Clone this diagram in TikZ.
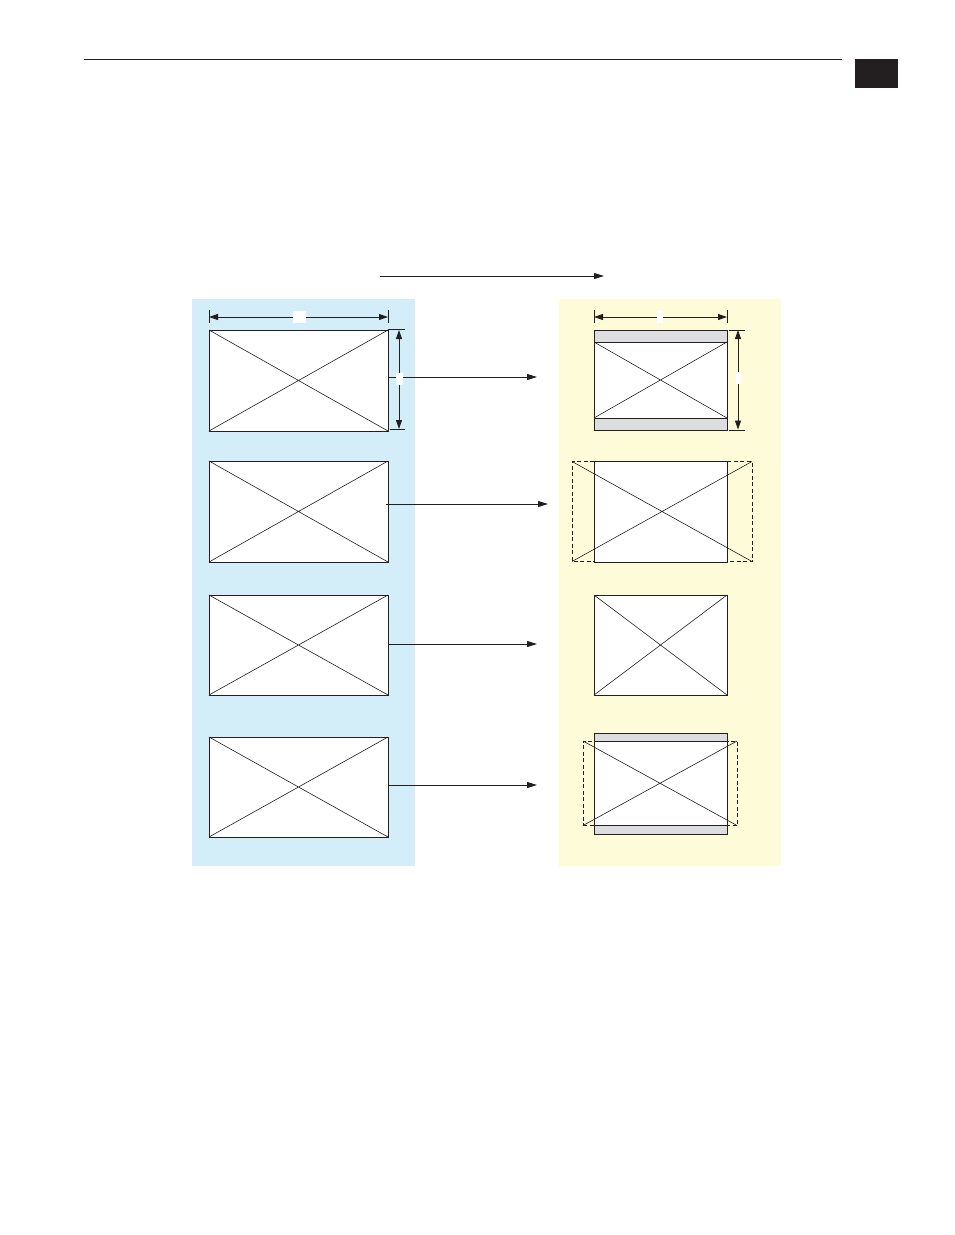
\documentclass[tikz,border=0pt]{standalone}
\usetikzlibrary{arrows.meta}
\definecolor{panelblue}{HTML}{D3EDF9}
\definecolor{panelyellow}{HTML}{FEFBD9}
\definecolor{bargray}{HTML}{DCDDDE}
\definecolor{ink}{HTML}{231F20}
\begin{document}
\begin{tikzpicture}[x=1pt,y=-1pt,
  frame/.style={draw=ink,line width=0.9pt,fill=white,inner sep=0pt,outer sep=0pt},
  ghost/.style={draw=ink,line width=0.8pt,dashed,dash pattern=on 4pt off 2.5pt,inner sep=0pt,outer sep=0pt},
  ghostline/.style={draw=ink,line width=0.8pt,dash pattern=on 4pt off 2.5pt},
  anchorbox/.style={inner sep=0pt,outer sep=0pt},
  xline/.style={draw=ink,line width=0.6pt},
  solid line/.style={draw=ink,line width=0.9pt},
  arr/.style={draw=ink,line width=0.9pt,-{Triangle[length=10pt,width=6pt]}},
  dim/.style={draw=ink,line width=0.9pt,{Triangle[length=9pt,width=6pt]}-{Triangle[length=9pt,width=6pt]}},
  tick/.style={draw=ink,line width=0.8pt},
  lbl/.style={fill=white,inner sep=0pt,outer sep=0pt}]
\useasboundingbox (0,0) rectangle (954,1235);
% header
\coordinate (ruleL) at (84,59);
\coordinate (ruleR) at (842,59);
\draw[ink,line width=0.8pt] (ruleL) -- (ruleR);
\node[fill=ink,inner sep=0pt,minimum width=43pt,minimum height=29pt] (tab) at (876.5,73.5) {};
% top arrow
\coordinate (ts) at (380,276);
\coordinate (te) at (604,276);
\draw[arr] (ts) -- (te);
% panels
\fill[panelblue] (192,299) rectangle (415,866);
\fill[panelyellow] (559,299) rectangle (781,866);

% ---------- left boxes ----------
\foreach \n/\y/\h in {L1/380.5/101, L2/511.5/101, L3/645/100, L4/787/100}{
  \node[frame,minimum width=179pt,minimum height=\h pt] (\n) at (298.5,\y) {};
  \draw[xline] (\n.north west) -- (\n.south east) (\n.south west) -- (\n.north east);
}
% left width dimension
\coordinate (lwa) at (209,317);
\coordinate (lwb) at (388,317);
\draw[tick] (209,310) -- (209,323) (388,310) -- (388,323);
\draw[dim] (lwa) -- (lwb);
\node[lbl,minimum width=13pt,minimum height=12pt] (lwl) at (299,317) {};
% left height dimension
\coordinate (lha) at (399,330);
\coordinate (lhb) at (399,429);
\draw[tick] (388,329.5) -- (405,329.5) (390,429) -- (405,429);
\draw[dim] (lha) -- (lhb);

% ---------- right boxes ----------
% row 1 (letterbox)
\node[frame,minimum width=133pt,minimum height=100pt] (R1) at (660.5,380) {};
\fill[bargray] (594,330) rectangle (727,342);
\fill[bargray] (594,418) rectangle (727,430);
\draw[solid line] (594,330) rectangle (727,430) (594,342) -- (727,342) (594,418) -- (727,418);
\coordinate (r1a) at (594,342); \coordinate (r1b) at (727,418);
\coordinate (r1c) at (594,418); \coordinate (r1d) at (727,342);
\draw[xline] (r1a) -- (r1b) (r1c) -- (r1d);
% right width dimension
\coordinate (rwa) at (594,317);
\coordinate (rwb) at (727,317);
\draw[tick] (594,310) -- (594,323) (727,310) -- (727,323);
\draw[dim] (rwa) -- (rwb);
\node[lbl,minimum width=6pt,minimum height=12pt] (rwl) at (660,317) {};
% right height dimension
\coordinate (rha) at (738,330);
\coordinate (rhb) at (738,429.5);
\draw[tick] (729,330) -- (745,330) (729,430) -- (745,430);
\draw[dim] (rha) -- (rhb);
\node[lbl,minimum width=5pt,minimum height=12pt] (rhl) at (738.5,378) {};

% row 2 (side crop)
\node[frame,minimum width=133pt,minimum height=101pt] (R2) at (660.5,511.5) {};
\node[anchorbox,minimum width=180pt,minimum height=100pt] (D2) at (662,511.5) {};
\draw[ghostline] (R2.west |- D2.north) -- (D2.north west) -- (D2.south west) -- (R2.west |- D2.south);
\draw[ghostline] (R2.east |- D2.north) -- (D2.north east) -- (D2.south east) -- (R2.east |- D2.south);
\draw[xline] (D2.north west) -- (D2.south east) (D2.south west) -- (D2.north east);

% row 3 (full)
\node[frame,minimum width=133pt,minimum height=100pt] (R3) at (660.5,645) {};
\draw[xline] (R3.north west) -- (R3.south east) (R3.south west) -- (R3.north east);

% row 4 (letterbox + crop)
\node[frame,minimum width=133pt,minimum height=101pt] (R4) at (660.5,783.5) {};
\fill[bargray] (594,733) rectangle (727,741);
\fill[bargray] (594,825.5) rectangle (727,834);
\node[ghost,minimum width=154pt,minimum height=84.5pt] (D4) at (660,783.25) {};
\draw[solid line] (594,733) rectangle (727,834) (594,741) -- (727,741) (594,825.5) -- (727,825.5);
\draw[xline] (D4.north west) -- (D4.south east) (D4.south west) -- (D4.north east);

% ---------- connectors ----------
\coordinate (c1s) at (388,377);   \coordinate (c1e) at (537,377);
\coordinate (c2s) at (386,504);   \coordinate (c2e) at (548,504);
\coordinate (c3s) at (388,644);   \coordinate (c3e) at (537,644);
\coordinate (c4s) at (388,785);   \coordinate (c4e) at (537,785);
\draw[arr] (c1s) -- (c1e);
\draw[arr] (c2s) -- (c2e);
\draw[arr] (c3s) -- (c3e);
\draw[arr] (c4s) -- (c4e);
\node[lbl,minimum width=7pt,minimum height=12pt] (lhl) at (399.5,379) {};
\end{tikzpicture}
\end{document}
